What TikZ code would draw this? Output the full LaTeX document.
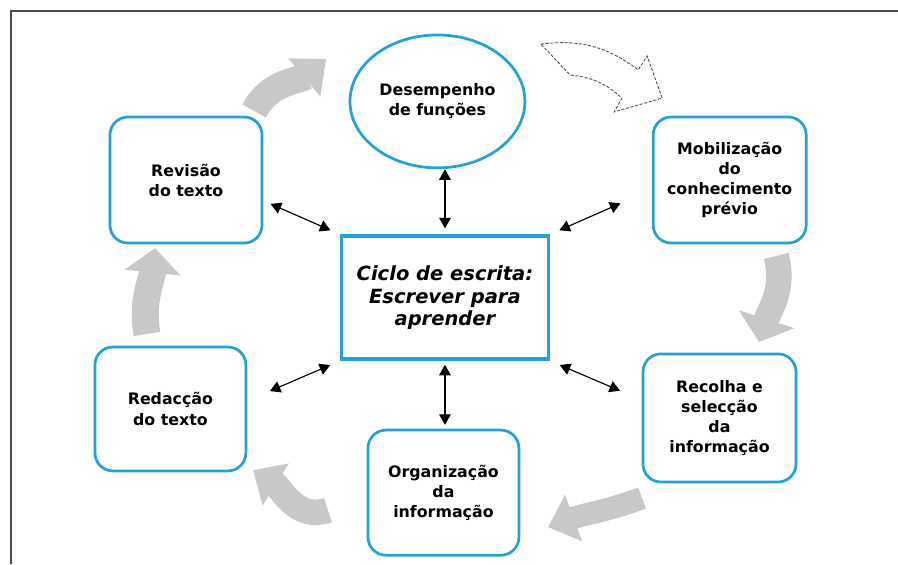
\documentclass[tikz,border=0pt]{standalone}
\usepackage{fontspec}
\setmainfont{DejaVu Sans}
\usepackage{tikz}
\usetikzlibrary{arrows.meta, positioning, shapes.geometric, calc}
\definecolor{cycleblue}{RGB}{38,161,212}
\definecolor{cyclegray}{RGB}{200,200,200}

\begin{document}
\begin{tikzpicture}[
        stage/.style={draw=cycleblue, line width=2.6pt, rounded corners=0.6cm, fill=white,
            minimum width=5.07cm, minimum height=4.2cm, align=center,
            font=\fontsize{15}{19}\selectfont\bfseries},
        hub/.style={draw=cycleblue, line width=3.3pt, minimum width=6.89cm, minimum height=4.1cm,
            align=center, font=\fontsize{18.5}{21.5}\selectfont\bfseries\itshape},
        both/.style={{Triangle[length=10pt,width=11pt]}-{Triangle[length=10pt,width=11pt]}, line width=1.1pt},
        turn/.style={draw=cyclegray, line width=0.9cm}
    ]
        \useasboundingbox (0,0) rectangle (29.93,-18.8);
        \draw[gray!60!black, line width=1.5pt] (29.93,-0.37) -- (0.37,-0.37) -- (0.37,-18.8);

        \node[hub] (central) at (14.83,-9.92) {Ciclo de escrita:\\Escrever para\\aprender};
        \node[ellipse, draw=cycleblue, line width=2.6pt, minimum width=5.83cm, minimum height=4.43cm,
            inner sep=0pt, align=center, font=\fontsize{15}{19}\selectfont\bfseries]
            (desemp) at (14.58,-3.38) {Desempenho\\de funções};
        \node[stage] (revisao) at (6.2,-6.0) {Revisão\\do texto};
        \node[stage, minimum width=5.1cm] (mobil) at (24.32,-6.0) {Mobilização\\do\\conhecimento\\prévio};
        \node[stage, minimum width=5.03cm, minimum height=4.13cm] (redaccao) at (5.68,-13.63) {Redacção\\do texto};
        \node[stage, minimum width=5.1cm, minimum height=4.27cm] (recolha) at (23.98,-13.93) {Recolha e\\selecção\\da\\informação};
        \node[stage, minimum width=5.03cm, minimum height=4.17cm] (organiz) at (14.78,-16.42) {Organização\\da\\informação};

        \draw[both, shorten >=0.2cm] (central.north |- desemp.south) -- (central.north);
        \draw[both, shorten <=0.13cm, shorten >=0.13cm] (central.south) -- (central.south |- organiz.north);
        \draw[both, shorten <=0.26cm, shorten >=0.34cm] (revisao.-15) -- (central.north west);
        \draw[both, shorten <=1.14cm, shorten >=0.34cm] (mobil.187) -- (central.north east);
        \draw[both, shorten <=0.82cm, shorten >=0.35cm] (redaccao.6) -- (central.south west);
        \draw[both, shorten <=0.78cm, shorten >=0.35cm] (recolha.167) -- (central.south east);

        % cycle arrows
        \draw[turn, -{Triangle[length=0.95cm,width=1.6cm]}] (8.47,-3.7) to[out=62, in=-140] (10.87,-1.97);
        \draw[gray!60!black, line width=0.8pt, dash pattern=on 3pt off 1.5pt, fill=white]
            (18.03,-1.47) to[bend left=22] (21.27,-2.33) -- (21.57,-1.87) -- (22.07,-3.27)
            -- (20.47,-3.73) -- (20.73,-3.27) to[bend right=18] (19.0,-2.5) -- cycle;
        \draw[turn, line width=0.85cm, -{Triangle[length=0.8cm,width=1.9cm]}] (25.87,-8.53) to[out=-75, in=72] (25.3,-11.4);
        \draw[turn, line width=0.75cm, -{Triangle[length=0.9cm,width=1.6cm]}] (21.4,-16.6) to[out=200, in=20] (18.27,-17.57);
        \draw[turn, line width=0.85cm, -{Triangle[length=0.9cm,width=1.6cm]}] (10.93,-17.0) to[out=200, in=-32] (8.43,-15.67);
        \draw[turn, -{Triangle[length=0.82cm,width=1.83cm]}] (4.9,-11.13) to[out=100, in=-96] (5.17,-8.27);
    \end{tikzpicture}
\end{document}
